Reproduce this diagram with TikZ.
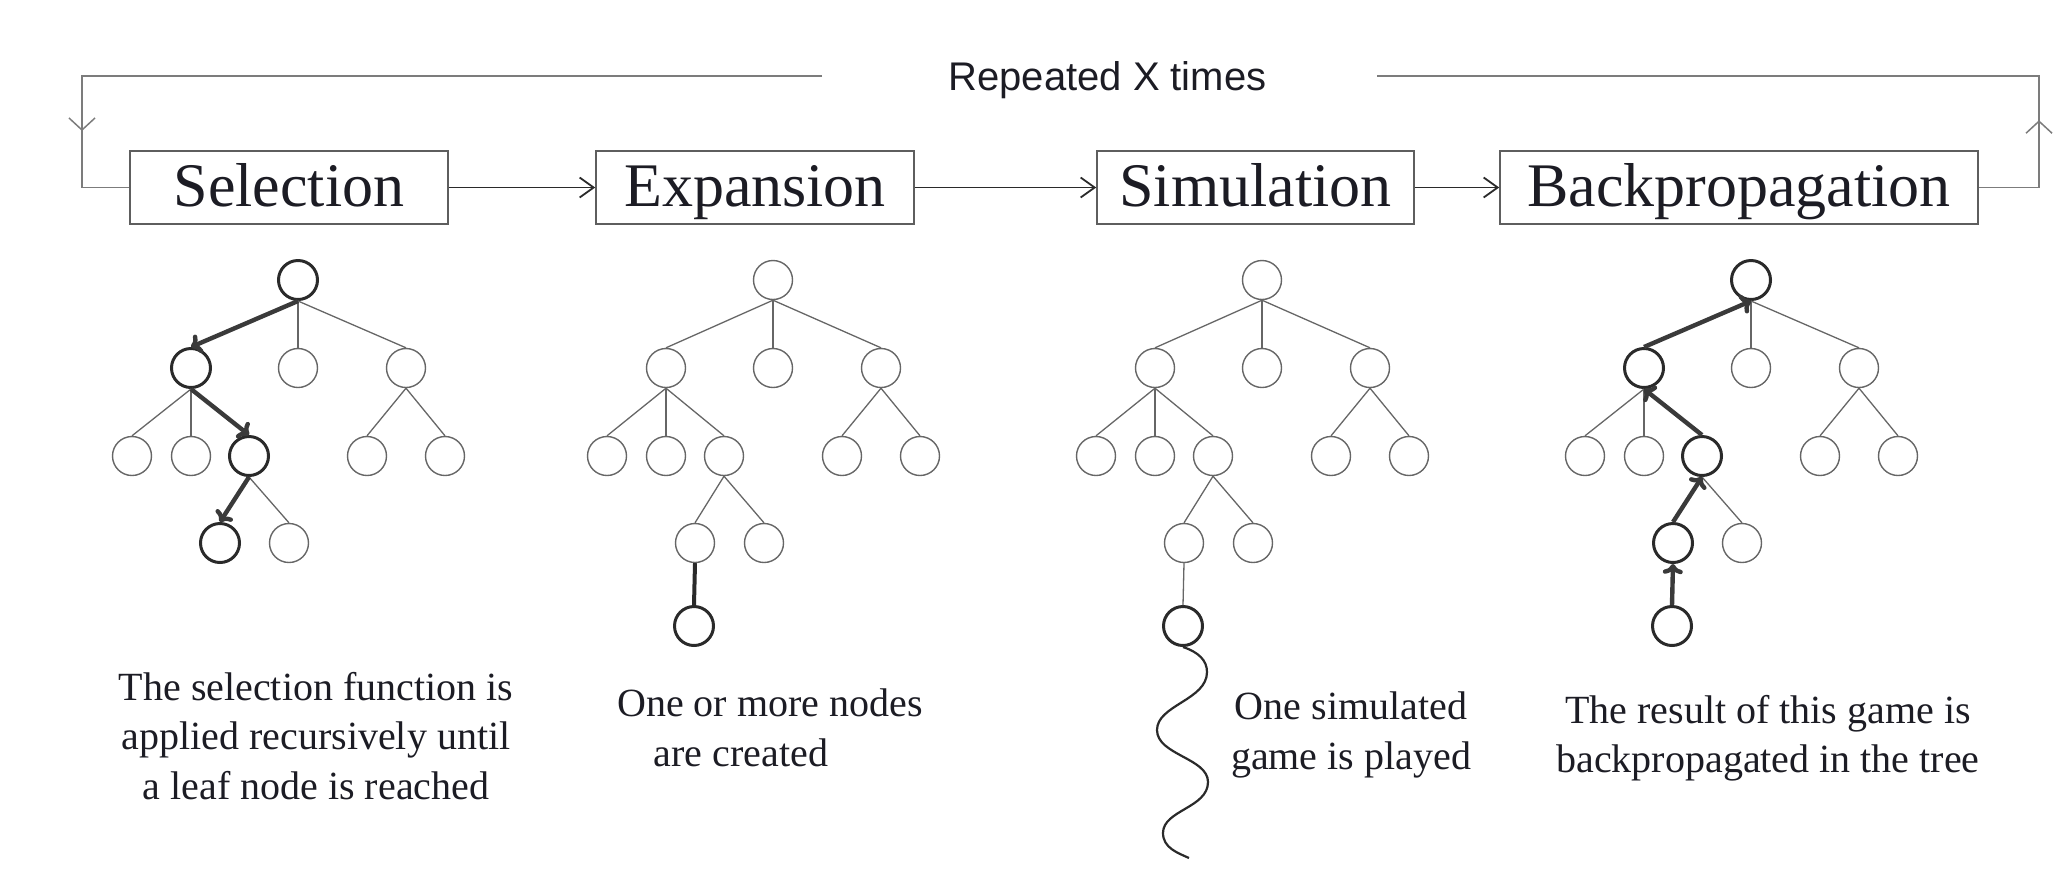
\documentclass[tikz,border=0pt]{standalone}
\usepackage{fontspec}
\setmainfont{Liberation Serif}
\newfontfamily\sansf{Liberation Sans}
\usetikzlibrary{arrows.meta,decorations.markings}
\definecolor{thincol}{HTML}{666666}
\definecolor{boldcol}{HTML}{2A2A2A}
\definecolor{arrcol}{HTML}{3A3A3A}
\definecolor{boxcol}{HTML}{5E5E5E}
\definecolor{loopcol}{HTML}{7C7C7C}
\definecolor{textcol}{HTML}{1C1C24}
\tikzset{
  thinnode/.style={circle, draw=thincol, line width=0.7pt, minimum size=19.5pt, inner sep=0pt},
  boldnode/.style={circle, draw=boldcol, line width=1.5pt, minimum size=19.5pt, inner sep=0pt},
  thinedge/.style={draw=thincol, line width=0.65pt},
  boldedge/.style={draw=boldcol, line width=2pt},
  boldarrow/.style={draw=arrcol, line width=2.2pt, -{To[length=5pt,width=10pt]}},
  procbox/.style={draw=boxcol, line width=0.8pt, minimum height=36.5pt, text height=21.7pt, text depth=2.5pt, inner sep=0pt, font=\fontsize{31}{36}\selectfont, text=textcol},
  flowarrow/.style={draw=boldcol, line width=0.9pt, -{Straight Barb[length=7pt,width=10pt]}},
  loopline/.style={draw=loopcol, line width=0.75pt},
  captext/.style={font=\fontsize{20}{24.75}\selectfont, align=center, text=textcol, inner sep=0pt},
  wavy/.style={draw=boldcol, line width=1.1pt}
}
\begin{document}
\begin{tikzpicture}[x=0.5pt, y=-0.5pt]
\useasboundingbox (0,0) rectangle (2062,875);

% process boxes
\node[procbox, minimum width=159pt] (sel) at (289,187.5) {Selection};
\node[procbox, minimum width=159pt] (exp) at (755,187.5) {Expansion};
\node[procbox, minimum width=158.5pt] (sim) at (1255.5,187.5) {Simulation};
\node[procbox, minimum width=239pt] (back) at (1739,187.5) {Backpropagation};

\draw[flowarrow] (sel) -- (exp);
\draw[flowarrow] (exp) -- (sim);
\draw[flowarrow] (sim) -- (back);

% repeat loop
\node[font=\sansf\fontsize{20}{24}\selectfont, text=textcol] (rep) at (1107.5,80) {Repeated X times};
\coordinate (loopL) at (822,76);
\coordinate (loopR) at (1377,76);
\draw[loopline, postaction={decorate}, decoration={markings, mark=at position 397.5pt with {\arrow{Straight Barb[length=6pt,width=13pt]}}}]
  (loopL) -| (82,187.5) -- (sel.west);
\draw[loopline, postaction={decorate}, decoration={markings, mark=at position 63.75pt with {\arrow{Straight Barb[length=6pt,width=13pt]}}}]
  (back.east) -- (2039,187.5) |- (loopR);

% ---------- Tree 1: Selection ----------
\node[boldnode] (s-r) at (298,280) {};
\node[boldnode] (s-a) at (191,368) {};
\node[thinnode] (s-b) at (298,368) {};
\node[thinnode] (s-c) at (406,368) {};
\node[thinnode] (s-aa) at (132,456) {};
\node[thinnode] (s-ab) at (191,456) {};
\node[boldnode] (s-ac) at (249,456) {};
\node[thinnode] (s-ca) at (367,456) {};
\node[thinnode] (s-cb) at (445,456) {};
\node[boldnode] (s-aca) at (220,543) {};
\node[thinnode] (s-acb) at (289,543) {};
\draw[thinedge] (s-r.south) -- (s-b.north);
\draw[thinedge] (s-r.south) -- (s-c.north);
\draw[thinedge] (s-a.south) -- (s-aa.north);
\draw[thinedge] (s-a.south) -- (s-ab.north);
\draw[thinedge] (s-c.south) -- (s-ca.north);
\draw[thinedge] (s-c.south) -- (s-cb.north);
\draw[thinedge] (s-ac.south) -- (s-acb.north);
\draw[boldarrow] (s-r.south) -- (s-a.north);
\draw[boldarrow] (s-a.south) -- (s-ac.north);
\draw[boldarrow] (s-ac.south) -- (s-aca.north);

% ---------- Tree 2: Expansion ----------
\begin{scope}[shift={(475,0)}]
\node[thinnode] (e-r) at (298,280) {};
\node[thinnode] (e-a) at (191,368) {};
\node[thinnode] (e-b) at (298,368) {};
\node[thinnode] (e-c) at (406,368) {};
\node[thinnode] (e-aa) at (132,456) {};
\node[thinnode] (e-ab) at (191,456) {};
\node[thinnode] (e-ac) at (249,456) {};
\node[thinnode] (e-ca) at (367,456) {};
\node[thinnode] (e-cb) at (445,456) {};
\node[thinnode] (e-aca) at (220,543) {};
\node[thinnode] (e-acb) at (289,543) {};
\node[boldnode] (e-acaa) at (219,626) {};
\end{scope}
\draw[thinedge] (e-r.south) -- (e-a.north);
\draw[thinedge] (e-r.south) -- (e-b.north);
\draw[thinedge] (e-r.south) -- (e-c.north);
\draw[thinedge] (e-a.south) -- (e-aa.north);
\draw[thinedge] (e-a.south) -- (e-ab.north);
\draw[thinedge] (e-a.south) -- (e-ac.north);
\draw[thinedge] (e-c.south) -- (e-ca.north);
\draw[thinedge] (e-c.south) -- (e-cb.north);
\draw[thinedge] (e-ac.south) -- (e-aca.north);
\draw[thinedge] (e-ac.south) -- (e-acb.north);
\draw[boldedge] (e-aca.south) -- (e-acaa.north);

% ---------- Tree 3: Simulation ----------
\begin{scope}[shift={(964,0)}]
\node[thinnode] (m-r) at (298,280) {};
\node[thinnode] (m-a) at (191,368) {};
\node[thinnode] (m-b) at (298,368) {};
\node[thinnode] (m-c) at (406,368) {};
\node[thinnode] (m-aa) at (132,456) {};
\node[thinnode] (m-ab) at (191,456) {};
\node[thinnode] (m-ac) at (249,456) {};
\node[thinnode] (m-ca) at (367,456) {};
\node[thinnode] (m-cb) at (445,456) {};
\node[thinnode] (m-aca) at (220,543) {};
\node[thinnode] (m-acb) at (289,543) {};
\node[boldnode] (m-acaa) at (219,626) {};
\end{scope}
\draw[thinedge] (m-r.south) -- (m-a.north);
\draw[thinedge] (m-r.south) -- (m-b.north);
\draw[thinedge] (m-r.south) -- (m-c.north);
\draw[thinedge] (m-a.south) -- (m-aa.north);
\draw[thinedge] (m-a.south) -- (m-ab.north);
\draw[thinedge] (m-a.south) -- (m-ac.north);
\draw[thinedge] (m-c.south) -- (m-ca.north);
\draw[thinedge] (m-c.south) -- (m-cb.north);
\draw[thinedge] (m-ac.south) -- (m-aca.north);
\draw[thinedge] (m-ac.south) -- (m-acb.north);
\draw[thinedge] (m-aca.south) -- (m-acaa.north);
\coordinate (waveend) at (1189,858);
\draw[wavy] (m-acaa.south)
  .. controls (1198,652) and (1207,660) .. (1207,672)
  .. controls (1207,700) and (1157,705) .. (1157,730)
  .. controls (1157,755) and (1208,758) .. (1208,782)
  .. controls (1208,808) and (1163,810) .. (1163,833)
  .. controls (1163,848) and (1178,853) .. (waveend);

% ---------- Tree 4: Backpropagation ----------
\begin{scope}[shift={(1453,0)}]
\node[boldnode] (b-r) at (298,280) {};
\node[boldnode] (b-a) at (191,368) {};
\node[thinnode] (b-b) at (298,368) {};
\node[thinnode] (b-c) at (406,368) {};
\node[thinnode] (b-aa) at (132,456) {};
\node[thinnode] (b-ab) at (191,456) {};
\node[boldnode] (b-ac) at (249,456) {};
\node[thinnode] (b-ca) at (367,456) {};
\node[thinnode] (b-cb) at (445,456) {};
\node[boldnode] (b-aca) at (220,543) {};
\node[thinnode] (b-acb) at (289,543) {};
\node[boldnode] (b-acaa) at (219,626) {};
\end{scope}
\draw[thinedge] (b-r.south) -- (b-b.north);
\draw[thinedge] (b-r.south) -- (b-c.north);
\draw[thinedge] (b-a.south) -- (b-aa.north);
\draw[thinedge] (b-a.south) -- (b-ab.north);
\draw[thinedge] (b-c.south) -- (b-ca.north);
\draw[thinedge] (b-c.south) -- (b-cb.north);
\draw[thinedge] (b-ac.south) -- (b-acb.north);
\draw[boldarrow] (b-acaa.north) -- (b-aca.south);
\draw[boldarrow] (b-aca.north) -- (b-ac.south);
\draw[boldarrow] (b-ac.north) -- (b-a.south);
\draw[boldarrow] (b-a.north) -- (b-r.south);

% captions
\node[captext] (capsel) at (316,736) {The selection function is\\applied recursively until\\a leaf node is reached};
\node[captext] (capexpa) at (770,703) {One or more nodes};
\node[captext] (capexpb) at (741,753) {are created};
\node[captext] (capsim) at (1351,735) {One simulated\\game is played};
\node[captext] (capback) at (1768,738) {The result of this game is\\backpropagated in the tree};
\end{tikzpicture}
\end{document}
